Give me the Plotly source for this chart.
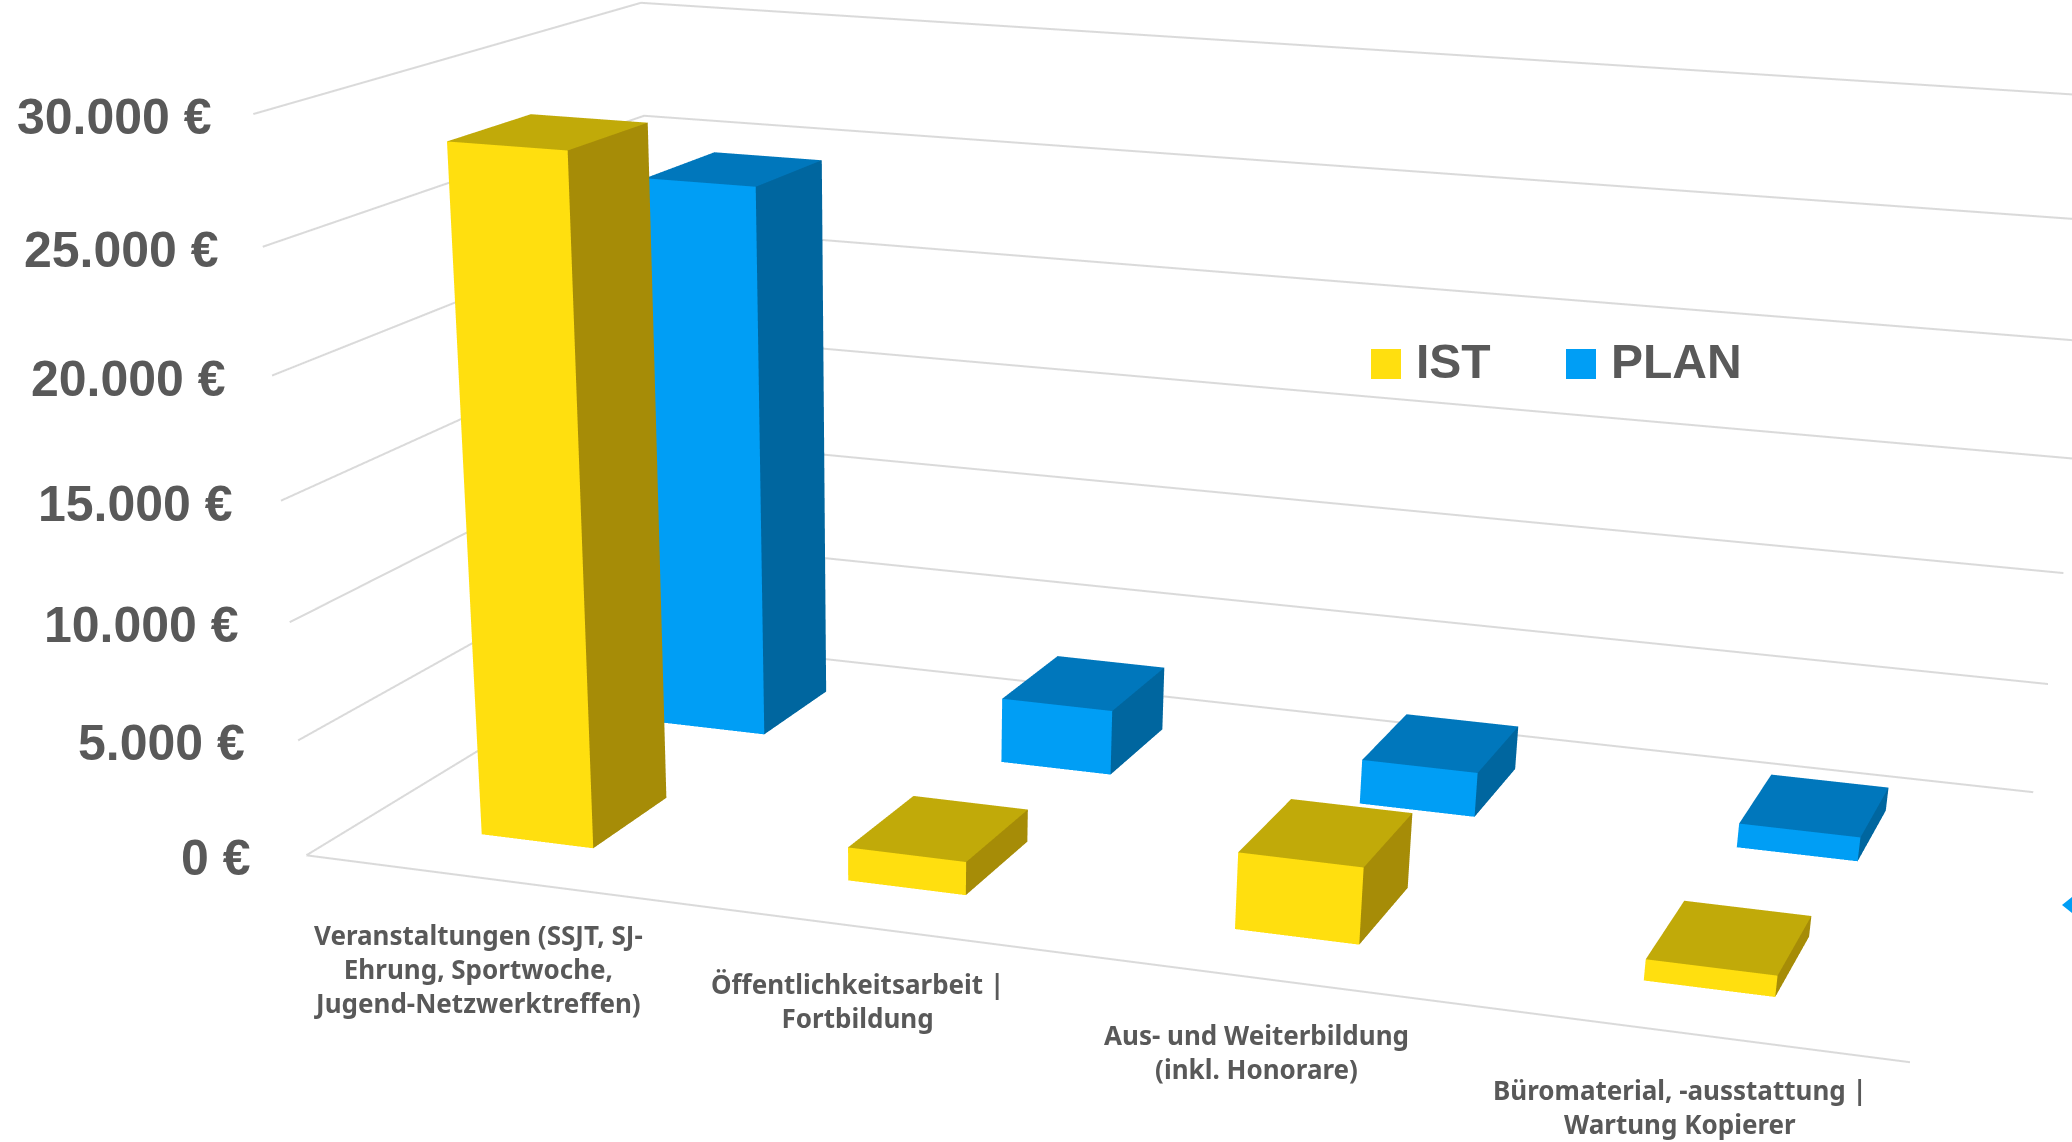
import plotly.graph_objects as go

# Values
categories = [
    "Veranstaltungen (SSJT, SJ-<br>Ehrung, Sportwoche,<br>Jugend-Netzwerktreffen)",
    "Öffentlichkeitsarbeit |<br>Fortbildung",
    "Aus- und Weiterbildung<br>(inkl. Honorare)",
    "Büromaterial, -ausstattung |<br>Wartung Kopierer",
]
ist = [28600, 1440, 3260, 890]
plan = [24500, 2950, 2000, 1070]
tick_values = [0, 5000, 10000, 15000, 20000, 25000, 30000]
tick_labels = ["0 €", "5.000 €", "10.000 €", "15.000 €", "20.000 €", "25.000 €", "30.000 €"]

FIG_W = 2072
FIG_H = 3421  # the view centre of the scene sits far below the picture, as in the original
TEXT = "#595959"
ARIAL = "Liberation Sans"

IST_COLS = ["#FFDF0F", "#C1AA09", "#A68C07"]
PLAN_COLS = ["#009EF5", "#0077BC", "#00669F"]


def bars(values, row, nudge, name, cols):
    xs, ys, zs, i, j, k, face = [], [], [], [], [], [], []
    for c, v in enumerate(values):
        n = len(xs)
        for a in (c + nudge + 0.33, c + nudge + 0.64):
            for b in (row + 0.29, row + 0.71):
                for h in (0, v):
                    xs.append(a)
                    ys.append(b)
                    zs.append(h)
        # front, right, top
        for quad, col in [((0, 1, 5, 4), cols[0]), ((4, 5, 7, 6), cols[2]), ((1, 3, 7, 5), cols[1])]:
            i += [n + quad[0], n + quad[0]]
            j += [n + quad[1], n + quad[2]]
            k += [n + quad[2], n + quad[3]]
            face += [col, col]
    return go.Mesh3d(
        x=xs, y=ys, z=zs, i=i, j=j, k=k, facecolor=face, name=name, flatshading=True,
        lighting=dict(ambient=1, diffuse=0, specular=0, fresnel=0), hoverinfo="skip",
    )


# gridlines: left wall and back wall at every level, plus the front floor edge
gx, gy, gz = [0, len(categories), None], [0, 0, None], [0, 0, None]
for z in tick_values:
    gx += [0, 0, len(categories), None]
    gy += [0, 2, 2, None]
    gz += [z, z, z, None]

fig = go.Figure()
fig.add_trace(go.Scatter3d(x=gx, y=gy, z=gz, mode="lines", line=dict(color="#DADADA", width=4), hoverinfo="skip"))
fig.add_trace(bars(ist, 0, 0, "IST", IST_COLS))
fig.add_trace(bars(plan, 1, 0.015, "PLAN", PLAN_COLS))

notes = []
for z, label in zip(tick_values, tick_labels):
    notes.append(dict(x=0, y=0, z=z, text=label, showarrow=False, xanchor="right", yanchor="middle",
                      xshift=-53 + 14 * z / 30000, yshift=-3,
                      font=dict(family=ARIAL, size=50, color=TEXT, weight=700)))
for c, label in enumerate(categories):
    notes.append(dict(x=c + 0.5, y=0, z=0, text=label, showarrow=False, xanchor="center", yanchor="top", xshift=-9,
                      yshift=-36, align="center", font=dict(family="Noto Sans", size=26, color=TEXT, weight=700)))


def py(y):
    return 1 - y / FIG_H


def px(x):
    return x / FIG_W


def swatch(x0, col):
    return dict(type="rect", xref="paper", yref="paper", x0=px(x0), x1=px(x0 + 30), y0=py(379), y1=py(349),
                fillcolor=col, line_width=0)


fig.update_layout(
    width=FIG_W, height=FIG_H, margin=dict(l=0, r=0, t=0, b=0), showlegend=False, paper_bgcolor="white",
    scene=dict(
        domain=dict(x=[0, 1], y=[0, 1]),
        xaxis=dict(range=[0, len(categories)], visible=False),
        yaxis=dict(range=[0, 2], visible=False),
        zaxis=dict(range=[0, 30000], visible=False),
        aspectmode="manual", aspectratio=dict(x=1, y=0.551, z=0.4373),
        camera=dict(
            projection=dict(type="perspective"),
            eye=dict(x=0.7369, y=-2.5113, z=0.5871),
            center=dict(x=0.7369 - 0.2756 * 2.7, y=-2.5113 + 0.8274 * 2.7, z=0.5871 - 0.4893 * 2.7),
            up=dict(x=-0.1728, y=0.4581, z=0.872),
        ),
        annotations=notes,
    ),
    shapes=[
        swatch(1371, IST_COLS[0]),
        swatch(1566, PLAN_COLS[0]),
        dict(type="path", xref="paper", yref="paper", fillcolor=PLAN_COLS[0], line_width=0,
             path=f"M {px(2072)} {py(897)} L {px(2062)} {py(905)} L {px(2072)} {py(913)} Z"),
    ],
    annotations=[
        dict(xref="paper", yref="paper", x=px(1414), y=py(362), text="IST", showarrow=False, xanchor="left",
             yanchor="middle", font=dict(family=ARIAL, size=48, color=TEXT, weight=700)),
        dict(xref="paper", yref="paper", x=px(1609), y=py(362), text="PLAN", showarrow=False, xanchor="left",
             yanchor="middle", font=dict(family=ARIAL, size=48, color=TEXT, weight=700)),
    ],
)

# page without body margin, and the tall figure must not scroll
fig.write_html("out.html", config=dict(displayModeBar=False),
               post_script="document.body.style.margin='0';document.body.style.overflow='hidden';")
